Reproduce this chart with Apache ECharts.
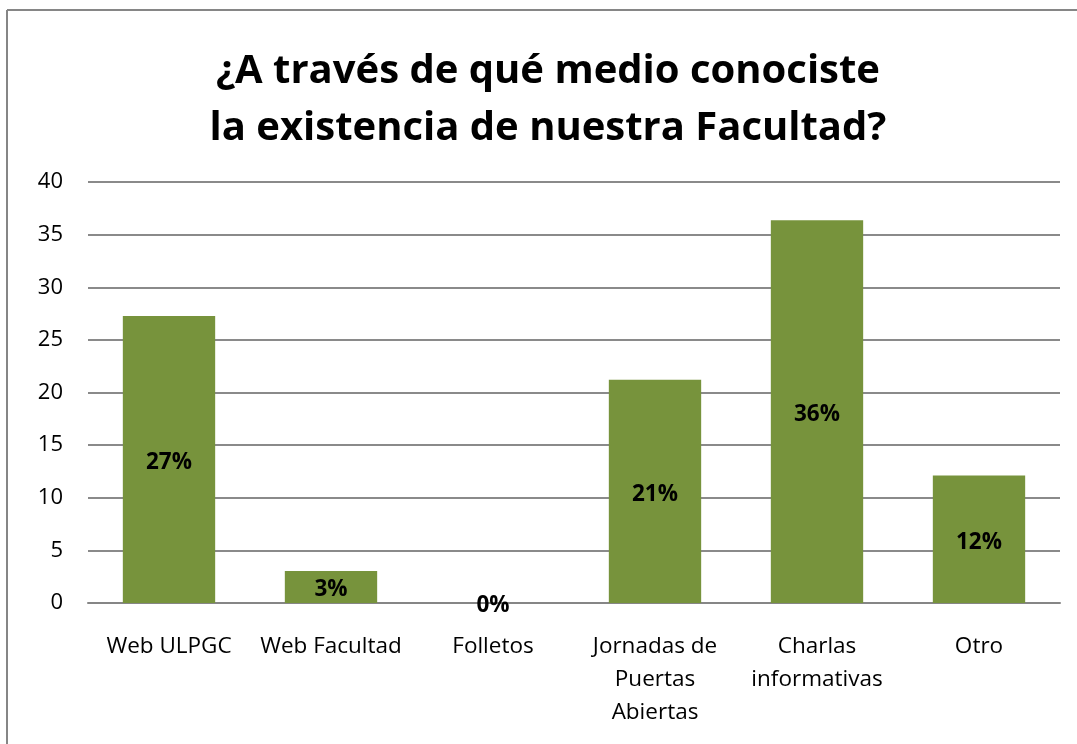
<!DOCTYPE html>
<html>
<head>
<meta charset="utf-8">
<script src="https://cdn.jsdelivr.net/npm/echarts@6/dist/echarts.min.js"></script>
<style>
html,body{margin:0;padding:0;background:#fff;}
#c{width:1077px;height:744px;}
</style>
</head>
<body>
<div id="c"></div>
<script>
var categories = ['Web ULPGC', 'Web Facultad', 'Folletos', 'Jornadas de\nPuertas\nAbiertas', 'Charlas\ninformativas', 'Otro'];
var values = [27.27, 3.03, 0, 21.21, 36.36, 12.12];
var titleText = '¿A través de qué medio conociste\nla existencia de nuestra Facultad?';
var yTicks = [0, 5, 10, 15, 20, 25, 30, 35, 40];

var font = '"Open Sans", "Noto Sans", sans-serif';
var chart = echarts.init(document.getElementById('c'));
chart.setOption({
  animation: false,
  backgroundColor: '#ffffff',
  title: {
    text: titleText,
    left: 543,
    textAlign: 'center',
    top: 38,
    textStyle: {fontFamily: font, fontSize: 40, fontWeight: 'bold', color: '#000', lineHeight: 57}
  },
  graphic: [
    {type: 'line', shape: {x1: 7, y1: 10, x2: 7, y2: 744}, style: {stroke: '#868686', lineWidth: 2}},
    {type: 'line', shape: {x1: 7, y1: 10, x2: 1077, y2: 10}, style: {stroke: '#868686', lineWidth: 2}}
  ],
  grid: {left: 88, right: 17, top: 182, bottom: 141, containLabel: false},
  xAxis: {
    type: 'category',
    data: categories,
    axisTick: {show: false},
    axisLine: {lineStyle: {color: '#868686', width: 2}},
    axisLabel: {fontFamily: font, fontSize: 22.5, color: '#000', margin: 27, lineHeight: 33, interval: 0}
  },
  yAxis: {
    type: 'value',
    min: yTicks[0],
    max: yTicks[yTicks.length - 1],
    interval: 5,
    axisLine: {show: false},
    axisTick: {show: false},
    axisLabel: {fontFamily: font, fontSize: 22, color: '#000', margin: 25},
    splitLine: {lineStyle: {color: '#8a8a8a', width: 2}}
  },
  series: [{
    type: 'bar',
    data: values,
    barWidth: '57%',
    itemStyle: {color: '#77933C'},
    label: {
      show: true,
      position: 'inside',
      offset: [0, 3],
      fontFamily: font,
      fontSize: 22.5,
      fontWeight: 'bold',
      color: '#000',
      formatter: function (p) { return Math.round(p.value) + '%'; }
    }
  }]
});
</script>
</body>
</html>
